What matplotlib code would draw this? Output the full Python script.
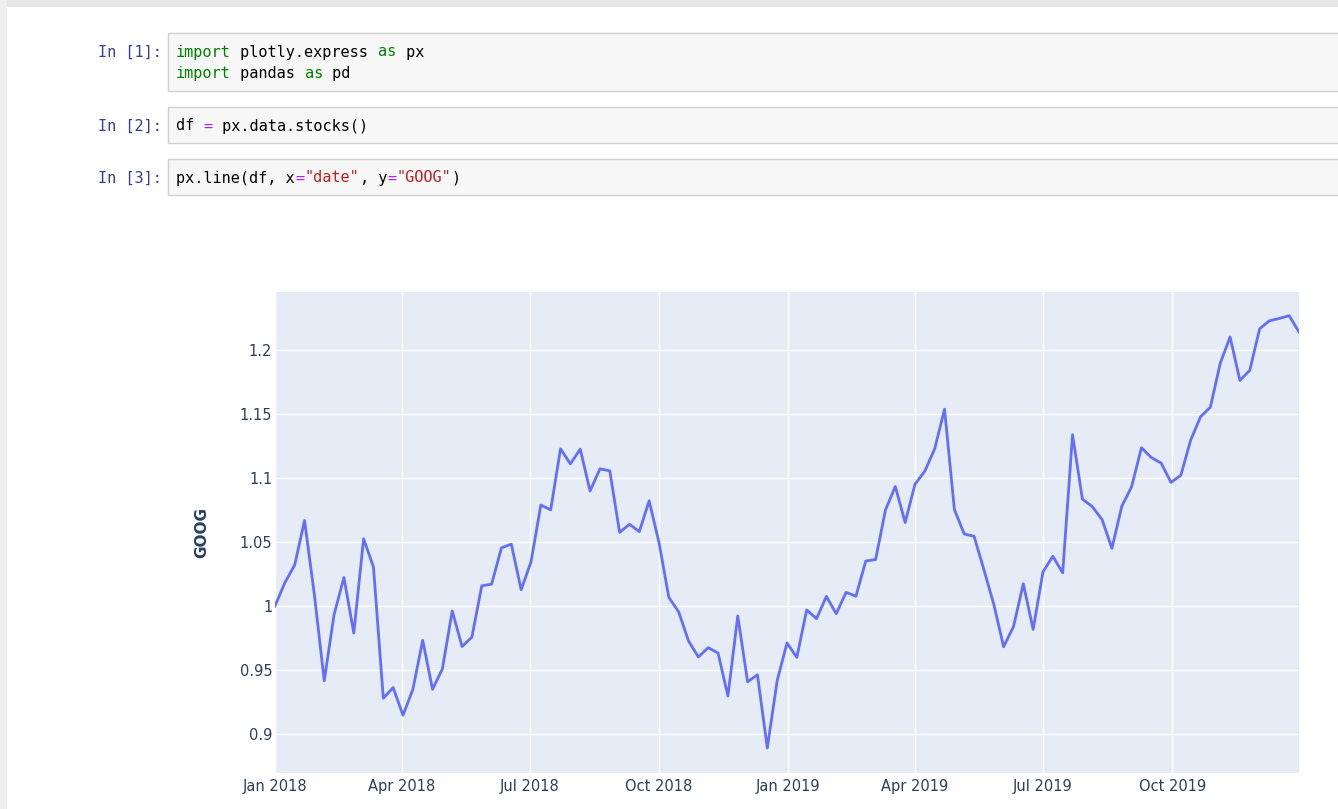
import numpy as np
import pandas as pd
import matplotlib
matplotlib.use("Agg")
from matplotlib import pyplot as plt
import matplotlib.dates as mdates
from matplotlib.patches import Rectangle

# datos semanales GOOG (px.data.stocks), normalizados a 2018-01-01
goog = [1.0, 1.018172, 1.032008, 1.066783, 1.008773, 0.941528, 0.993259, 1.022282,
        0.978852, 1.052448, 1.030427, 0.927896, 0.936244, 0.914626, 0.934706, 0.973151,
        0.934851, 0.950868, 0.996121, 0.968279, 0.975743, 1.015734, 1.017057, 1.045404,
        1.048338, 1.012697, 1.034374, 1.078843, 1.075119, 1.122834, 1.111004, 1.122544,
        1.089785, 1.107118, 1.105605, 1.057485, 1.063831, 1.058064, 1.082152, 1.049578,
        1.006685, 0.995321, 0.972632, 0.960140, 0.967424, 0.963202, 0.929625, 0.992222,
        0.940702, 0.946271, 0.889005, 0.941556, 0.971129, 0.959829, 0.996943, 0.990037,
        1.007521, 0.993929, 1.010664, 1.007576, 1.035126, 1.036313, 1.074950, 1.093358,
        1.065163, 1.095163, 1.105354, 1.122834, 1.153749, 1.075419, 1.056241, 1.054456,
        1.028300, 1.001388, 0.968107, 0.983815, 1.017337, 0.981686, 1.026681, 1.038819,
        1.025863, 1.133799, 1.083551, 1.077656, 1.067493, 1.045008, 1.077856, 1.093139,
        1.123625, 1.115968, 1.111655, 1.096522, 1.102136, 1.129608, 1.147783, 1.155324,
        1.189591, 1.210148, 1.176223, 1.184066, 1.216498, 1.222859, 1.224623, 1.226856,
        1.213976]
fechas = pd.date_range("2018-01-01", "2019-12-30", freq="W-MON")

yticks = [0.9, 0.95, 1.0, 1.05, 1.1, 1.15, 1.2]
ytick_labels = ["0.9", "0.95", "1", "1.05", "1.1", "1.15", "1.2"]
xticks = ["2018-01-01", "2018-04-01", "2018-07-01", "2018-10-01",
          "2019-01-01", "2019-04-01", "2019-07-01", "2019-10-01"]

# celdas del notebook: lista de lineas, cada linea es lista de (texto, estilo)
celdas = [
    ("In [1]:", [[("import", "kw"), (" plotly.express ", "n"), ("as", "kw"), (" px", "n")],
                 [("import", "kw"), (" pandas ", "n"), ("as", "kw"), (" pd", "n")]]),
    ("In [2]:", [[("df ", "n"), ("=", "op"), (" px.data.stocks()", "n")]]),
    ("In [3]:", [[("px.line(df, x", "n"), ("=", "op"), ('"date"', "s"), (", y", "n"),
                  ("=", "op"), ('"GOOG"', "s"), (")", "n")]]),
]

W, H = 1338, 809
fig = plt.figure(figsize=(W / 100, H / 100), dpi=100)
fig.patch.set_facecolor("white")

def fx(px):
    return px / W

def fy(py):
    return 1 - py / H

# marco gris del notebook
fig.patches.append(Rectangle((0, fy(7)), 1, 7 / H, transform=fig.transFigure,
                             facecolor="#e6e6e6", edgecolor="none"))
fig.patches.append(Rectangle((0, 0), fx(7), 1, transform=fig.transFigure,
                             facecolor="#eeeeee", edgecolor="none"))

colores = {"kw": "#008000", "n": "#000000", "op": "#aa22ff", "s": "#ba2121"}
mono = "DejaVu Sans Mono"
fs = 11
cw = 0.602 * fs * 100 / 72    # ancho de un caracter en px
cajas = [(33, 91), (107, 143), (159, 195)]
primeras = [52, 126, 178]
for (prompt, lineas), (y0, y1), yl in zip(celdas, cajas, primeras):
    fig.patches.append(Rectangle((fx(168), fy(y1)), fx(W + 10 - 168), (y1 - y0) / H,
                                 transform=fig.transFigure, facecolor="#f7f7f7",
                                 edgecolor="#cfcfcf", linewidth=1))
    fig.text(fx(162), fy(yl), prompt, color="#303f9f", family=mono, fontsize=fs,
             ha="right", va="center")
    for k, linea in enumerate(lineas):
        col = 0
        for txt, est in linea:
            fig.text(fx(176 + col * cw), fy(yl + k * 21.5), txt, color=colores[est],
                     family=mono, fontsize=fs, va="center")
            col += len(txt)

# grafico plotly
ax = fig.add_axes([fx(275), fy(773), fx(1299 - 275), (773 - 292) / H])
ax.set_facecolor("#e5ecf6")
ax.plot(fechas, goog, color="#636efa", linewidth=2, solid_joinstyle="round")
ax.set_xlim(pd.Timestamp("2018-01-01"), pd.Timestamp("2019-12-30"))
ax.set_ylim(0.8695, 1.2453)
ax.set_yticks(yticks)
ax.set_yticklabels(ytick_labels)
ax.set_xticks(pd.to_datetime(xticks))
ax.xaxis.set_major_formatter(mdates.DateFormatter("%b %Y"))
ax.grid(True, color="white", linewidth=1.0)
ax.set_axisbelow(True)
for s in ax.spines.values():
    s.set_visible(False)
ax.tick_params(length=0, colors="#2a3f5f", labelsize=10.5)
ax.tick_params(axis="y", pad=2)
ax.tick_params(axis="x", pad=4)
for lab in ax.get_xticklabels() + ax.get_yticklabels():
    lab.set_fontfamily("DejaVu Sans")
fig.text(fx(202), fy(532), "GOOG", rotation=90, color="#2a3f5f", family="DejaVu Sans",
         fontsize=11, fontweight="bold", ha="center", va="center")

fig.savefig("out.png", dpi=100)
